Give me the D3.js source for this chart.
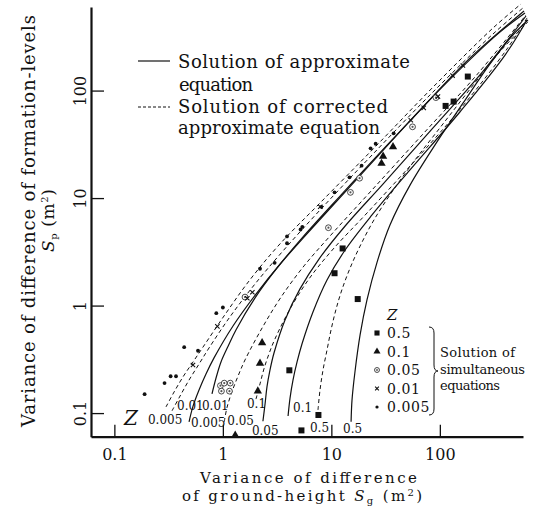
<!DOCTYPE html>
<html>
<head>
<meta charset="utf-8">
<script src="https://cdn.jsdelivr.net/npm/d3@7"></script>
<style>
  body { margin: 0; background: #fff; }
  svg { display: block; }
  text { font-family: "DejaVu Serif", serif; fill: #111; }
</style>
</head>
<body>
<div id="chart"></div>
<script>
// ---- data: [Sg, Sp] in m^2 ----
const zLevels = ['0.005', '0.01', '0.05', '0.1', '0.5'];

// solution of approximate equation (solid)
const approx005 = [[0.488,0.083],[0.531,0.116],[0.603,0.164],[0.699,0.231],[0.829,0.326],[1.24,0.646],[2.02,1.28],[3.44,2.49],[6.92,5.50],[17.6,15.4],[54.2,53.3],[178,189],[597,550]];
const approx01 = [[0.794,0.151],[0.865,0.212],[0.961,0.299],[1.12,0.421],[1.32,0.593],[1.98,1.18],[3.16,2.24],[5.48,4.35],[12.3,10.7],[35.5,34.0],[112,115],[351,344],[609,527]];
const approx05 = [[2.34,0.084],[2.45,0.122],[2.55,0.175],[2.72,0.252],[2.96,0.362],[3.74,0.735],[5.14,1.43],[7.69,2.71],[13.4,5.50],[29.9,13.5],[86.5,44.9],[255,155],[622,494]];
const approx1 = [[3.99,0.094],[4.16,0.138],[4.43,0.203],[4.83,0.299],[5.36,0.439],[6.77,0.872],[9.12,1.73],[13.4,3.29],[23.7,6.96],[53.1,18.3],[153,63.2],[399,214],[636,454]];
const approx5 = [[15.2,0.083],[15.5,0.132],[16.5,0.241],[18.4,0.533],[21.3,1.13],[26.4,2.54],[34.7,5.62],[53.1,13.2],[94.1,33.3],[164,76.7],[290,177],[462,322],[649,454]];

// solution of corrected approximate equation (dashed)
const corr005 = [[0.299,0.114],[0.355,0.157],[0.429,0.217],[0.531,0.299],[0.657,0.412],[1.025,0.800],[1.74,1.69],[3.29,3.66],[8.20,9.40],[25.8,30.5],[88.3,110],[309,382],[560,639]];
const corr01 = [[0.340,0.105],[0.403,0.144],[0.488,0.203],[0.603,0.286],[0.745,0.403],[1.16,0.783],[1.98,1.59],[3.58,3.22],[8.03,7.92],[24.2,25.7],[86.5,97.1],[309,336],[584,587]];
const corr05 = [[1.03,0.083],[1.09,0.112],[1.21,0.157],[1.38,0.221],[1.60,0.312],[2.30,0.619],[3.44,1.20],[5.60,2.34],[10.1,4.63],[23.7,11.9],[70.0,39.5],[215,137],[622,505]];
const corr1 = [[2.02,0.135],[2.20,0.187],[2.39,0.257],[2.66,0.355],[3.02,0.489],[4.16,0.930],[6.22,1.77],[10.4,3.36],[20.9,7.11],[54.2,20.3],[157,68.9],[416,244],[636,474]];
const corr5 = [[7.53,0.107],[7.86,0.164],[8.38,0.252],[9.12,0.386],[9.93,0.593],[11.0,0.910],[12.5,1.40],[14.9,2.24],[18.4,3.58],[24.7,6.26],[36.2,11.4],[59.0,22.6],[100,44.9],[178,95.0],[336,214],[649,435]];

// solution of simultaneous equations (points)
const simZ5 = [[10.7,2.0],[17.5,1.15],[4.1,0.25],[7.6,0.096],[5.3,0.069],[12.7,3.4],[113,72],[134,79],[181,135]];
const simZ1 = [[1.3,0.062],[2.3,0.45],[2.2,0.29],[2.1,0.16],[29,21],[30,24.5],[37,30]];
const simZ05 = [[0.95,0.18],[1.03,0.19],[1.17,0.19],[0.97,0.16],[1.15,0.16],[1.6,1.2],[9.4,5.3],[15,11.3],[18.2,15.3],[56,46],[92,86]];
const simZ01 = [[0.53,0.28],[0.89,0.64],[1.68,1.17],[1.87,1.33],[7.9,8.3],[54,53],[71,69],[96,88],[131,138],[163,171]];
const simZ005 = [[0.19,0.15],[0.29,0.19],[0.33,0.22],[0.37,0.22],[0.44,0.41],[0.59,0.38],[0.87,0.85],[1.0,0.96],[2.2,2.2],[3.0,2.5],[3.9,3.8],[3.9,4.4],[5.2,5.1],[5.4,5.4],[8.1,8.3],[10.7,11.3],[14.7,15.6],[19,20],[23,29],[25.6,32],[37.5,40]];

const tickValues = [0.1, 1, 10, 100];
const tickLabels = ['0.1', '1', '10', '100'];

// ---- layout ----
const width = 537;
const height = 517;

const svg = d3
  .select('#chart')
  .append('svg')
  .attr('width', width)
  .attr('height', height);

const x = d3.scaleLog().domain([0.0609, 584]).range([91, 523]);
const y = d3.scaleLog().domain([0.0603, 599]).range([436.7, 7]);

const fmt = (d) => tickLabels[tickValues.indexOf(d)];

// x axis
svg
  .append('g')
  .attr('transform', `translate(0, ${y.range()[0]})`)
  .call(d3.axisBottom(x).tickValues(tickValues).tickFormat(fmt).tickSizeInner(-12).tickSizeOuter(0))
  .call((g) => g.attr('font-family', null).attr('font-size', null))
  .call((g) => g.select('.domain').attr('stroke', '#111').attr('stroke-width', 2.2))
  .call((g) => g.selectAll('.tick line').attr('stroke', '#111').attr('stroke-width', 1.3))
  .call((g) => g.selectAll('.tick text').attr('y', 23).attr('dy', 0).attr('font-size', 16).attr('fill', '#111'));

// y axis, labels turned on their side
svg
  .append('g')
  .attr('transform', `translate(${x.range()[0]}, 0)`)
  .call(d3.axisLeft(y).tickValues(tickValues).tickFormat(fmt).tickSizeInner(-13).tickSizeOuter(0))
  .call((g) => g.attr('font-family', null).attr('font-size', null))
  .call((g) => g.select('.domain').attr('stroke', '#111').attr('stroke-width', 2.2))
  .call((g) => g.selectAll('.tick line').attr('stroke', '#111').attr('stroke-width', 1.3))
  .call((g) =>
    g.selectAll('.tick text')
      .attr('transform', 'rotate(-90)')
      .attr('x', 0)
      .attr('y', -5)
      .attr('dy', 0)
      .attr('text-anchor', 'middle')
      .attr('font-size', 16)
      .attr('fill', '#111')
  );

// ---- curves ----
const line = d3
  .line()
  .x((d) => x(d[0]))
  .y((d) => y(d[1]))
  .curve(d3.curveCatmullRom.alpha(0.5));

const curves = [
  { z: '0.005', pts: corr005, dashed: true, off: [-18, 17] },
  { z: '0.01', pts: corr01, dashed: true, off: [5, -1] },
  { z: '0.005', pts: approx005, dashed: false, off: [2, 5] },
  { z: '0.01', pts: approx01, dashed: false, off: [-10, 16] },
  { z: '0.05', pts: corr05, dashed: true, off: [3, 3] },
  { z: '0.1', pts: corr1, dashed: true, off: [-9, 9] },
  { z: '0.05', pts: approx05, dashed: false, off: [-11, 14] },
  { z: '0.1', pts: approx1, dashed: false, off: [5, -4] },
  { z: '0.5', pts: corr5, dashed: true, off: [-8, 22] },
  { z: '0.5', pts: approx5, dashed: false, off: [-8, 11] },
];

svg
  .append('g')
  .selectAll('path')
  .data(curves)
  .join('path')
  .attr('d', (d) => line(d.pts))
  .attr('fill', 'none')
  .attr('stroke', '#111')
  .attr('stroke-width', (d) => (d.dashed ? 1 : 1.2))
  .attr('stroke-dasharray', (d) => (d.dashed ? '4,3' : null));

svg
  .append('g')
  .selectAll('text')
  .data(curves)
  .join('text')
  .attr('x', (d) => x(d.pts[0][0]) + d.off[0])
  .attr('y', (d) => y(d.pts[0][1]) + d.off[1])
  .attr('font-family', '"Liberation Serif", serif')
  .attr('font-size', 12)
  .text((d) => d.z);

// ---- point markers ----
function marker(g, kind, cx, cy, k = 1) {
  if (kind === 'square') {
    g.append('rect')
      .attr('x', cx - 3 * k).attr('y', cy - 3 * k)
      .attr('width', 6 * k).attr('height', 6 * k)
      .attr('fill', '#111');
  } else if (kind === 'triangle') {
    g.append('path')
      .attr('transform', `translate(${cx},${cy})`)
      .attr('d', d3.symbol(d3.symbolTriangle, 30 * k * k)())
      .attr('fill', '#111');
  } else if (kind === 'ring') {
    g.append('circle').attr('cx', cx).attr('cy', cy).attr('r', 2.9 * k)
      .attr('fill', '#fff').attr('stroke', '#333').attr('stroke-width', 0.9);
    g.append('circle').attr('cx', cx).attr('cy', cy).attr('r', 1.1 * k).attr('fill', '#555');
  } else if (kind === 'cross') {
    const s = 2.2 * k;
    g.append('path')
      .attr('d', `M${cx - s},${cy - s}L${cx + s},${cy + s}M${cx - s},${cy + s}L${cx + s},${cy - s}`)
      .attr('stroke', '#111').attr('stroke-width', 1.1);
  } else {
    g.append('circle').attr('cx', cx).attr('cy', cy).attr('r', 1.9 * k).attr('fill', '#111');
  }
}

const pointSets = [
  { z: '0.5', kind: 'square', pts: simZ5 },
  { z: '0.1', kind: 'triangle', pts: simZ1 },
  { z: '0.05', kind: 'ring', pts: simZ05 },
  { z: '0.01', kind: 'cross', pts: simZ01 },
  { z: '0.005', kind: 'dot', pts: simZ005 },
];

const markLayer = svg.append('g');
pointSets.forEach((set) => {
  set.pts.forEach((p) => marker(markLayer, set.kind, x(p[0]), y(p[1])));
});

// ---- Z tag near the origin ----
svg.append('text')
  .attr('x', 124).attr('y', 425)
  .attr('font-size', 20).attr('font-style', 'italic')
  .text('Z');

// ---- top legend ----
const legendTop = svg.append('g');
legendTop.append('line').attr('x1', 138).attr('x2', 170).attr('y1', 61).attr('y2', 61)
  .attr('stroke', '#111').attr('stroke-width', 1.2);
legendTop.append('line').attr('x1', 138).attr('x2', 170).attr('y1', 107).attr('y2', 107)
  .attr('stroke', '#111').attr('stroke-width', 1).attr('stroke-dasharray', '3,2');
[
  ['Solution of approximate', 178, 68, 232],
  ['equation', 179, 90.5, 74],
  ['Solution of corrected', 178, 113, 210],
  ['approximate equation', 178, 134, 202],
].forEach(([t, tx, ty, len]) => {
  legendTop.append('text')
    .attr('x', tx).attr('y', ty)
    .attr('font-size', 18)
    .attr('textLength', len).attr('lengthAdjust', 'spacing')
    .text(t);
});

// ---- points legend ----
const legendPts = svg.append('g');
legendPts.append('text').attr('x', 387).attr('y', 320)
  .attr('font-size', 15).attr('font-style', 'italic').text('Z');
pointSets.forEach((set, i) => {
  const ry = 333 + i * 18.5;
  marker(legendPts, set.kind, 377, ry, 0.85);
  legendPts.append('text')
    .attr('x', 387).attr('y', ry + 5)
    .attr('font-size', 14)
    .attr('letter-spacing', 0.6)
    .text(set.z);
});
legendPts.append('path')
  .attr('d', 'M429,327 Q434,327 434,333 L434,365 Q434,371 438,371 Q434,371 434,377 L434,409 Q434,415 429,415')
  .attr('fill', 'none').attr('stroke', '#111').attr('stroke-width', 1);
[
  ['Solution of', 357, 75],
  ['simultaneous', 374, 85],
  ['equations', 390, 60],
].forEach(([t, ty, len]) => {
  legendPts.append('text')
    .attr('x', 440).attr('y', ty)
    .attr('font-size', 13)
    .attr('textLength', len).attr('lengthAdjust', 'spacing')
    .text(t);
});

// ---- axis titles ----
const xTitle = svg.append('g');
xTitle.append('text')
  .attr('x', 200).attr('y', 483)
  .attr('font-size', 15)
  .attr('textLength', 217).attr('lengthAdjust', 'spacing')
  .text('Variance of difference');
const xt2 = xTitle.append('text')
  .attr('x', 182).attr('y', 501)
  .attr('font-size', 15)
  .attr('textLength', 240).attr('lengthAdjust', 'spacing');
xt2.append('tspan').text('of ground-height ');
xt2.append('tspan').attr('font-style', 'italic').text('S');
xt2.append('tspan').attr('font-size', 10).attr('dy', 3).text('g');
xt2.append('tspan').attr('dy', -3).text(' (m');
xt2.append('tspan').attr('font-size', 10).attr('dy', -5).text('2');
xt2.append('tspan').attr('dy', 5).text(')');

const yTitle = svg.append('g').attr('transform', 'translate(35, 221) rotate(-90)');
yTitle.append('text')
  .attr('x', -206).attr('y', 0)
  .attr('font-size', 18)
  .attr('textLength', 412).attr('lengthAdjust', 'spacing')
  .text('Variance of difference of formation-levels');
const yt2 = yTitle.append('text')
  .attr('x', -31).attr('y', 19)
  .attr('font-size', 17)
  .attr('textLength', 63).attr('lengthAdjust', 'spacing');
yt2.append('tspan').attr('font-style', 'italic').text('S');
yt2.append('tspan').attr('font-size', 10).attr('dy', 3).text('p');
yt2.append('tspan').attr('dy', -3).text(' (m');
yt2.append('tspan').attr('font-size', 10).attr('dy', -6).text('2');
yt2.append('tspan').attr('dy', 6).text(')');
</script>
</body>
</html>
